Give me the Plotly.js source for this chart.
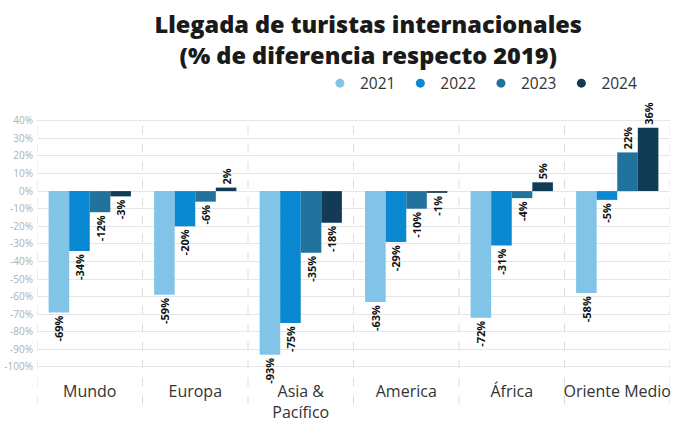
<!DOCTYPE html>
<html>
<head>
<meta charset="utf-8">
<script src="https://cdn.plot.ly/plotly-3.0.1.min.js"></script>
<style>html,body{margin:0;padding:0;background:#fff;}#chart{width:700px;height:440px;}</style>
</head>
<body>
<div id="chart"></div>
<script>
const categories = ["Mundo", "Europa", "Asia &<br>Pacífico", "America", "África", "Oriente Medio"];
const years = ["2021", "2022", "2023", "2024"];
const v2021 = [-69, -59, -93, -63, -72, -58];
const v2022 = [-34, -20, -75, -29, -31, -5];
const v2023 = [-12, -6, -35, -10, -4, 22];
const v2024 = [-3, 2, -18, -1, 5, 36];
const yTickVals = [40, 30, 20, 10, 0, -10, -20, -30, -40, -50, -60, -70, -80, -90, -100];
const colors = ["#82C4E8", "#0B88D2", "#22729E", "#123B56"];
const series = [v2021, v2022, v2023, v2024];

const traces = [];
series.forEach((vals, i) => {
  traces.push({
    type: "bar",
    name: years[i],
    x: categories,
    y: vals,
    marker: {color: colors[i]},
    text: vals.map(v => v + "%"),
    textposition: "outside",
    textangle: -90,
    constraintext: "none",
    textfont: {family: "Open Sans", size: 11, color: "#111", weight: "bold"},
    cliponaxis: false,
    showlegend: false,
    hoverinfo: "skip"
  });
});
// legend entries with circular markers
series.forEach((vals, i) => {
  traces.push({
    type: "scatter",
    mode: "markers",
    name: years[i],
    x: [null],
    y: [null],
    marker: {color: colors[i], size: 9, symbol: "circle"},
    showlegend: true,
    hoverinfo: "skip"
  });
});

const shapes = [];
for (let k = 0; k <= categories.length; k++) {
  shapes.push({
    type: "line", xref: "x", yref: "paper",
    x0: k - 0.5, x1: k - 0.5, y0: -0.12, y1: 0.99,
    line: {color: "#dcdcdc", width: 1, dash: "dash"},
    layer: "below"
  });
}

const layout = {
  width: 700, height: 440,
  margin: {l: 37, r: 30, t: 119, b: 66},
  paper_bgcolor: "#fff", plot_bgcolor: "#fff",
  font: {family: "Open Sans", color: "#333"},
  title: {
    text: "Llegada de turistas internacionales<br>(% de diferencia respecto 2019)",
    font: {family: "Open Sans", size: 23.5, color: "#1a1a1a", weight: 800},
    x: 0.526, xanchor: "center", y: 0.925, yanchor: "middle", xref: "container", yref: "container"
  },
  legend: {
    orientation: "h", xref: "container", yref: "container",
    x: 0.457, xanchor: "left", y: 0.81, yanchor: "middle",
    font: {family: "Open Sans", size: 15.5, color: "#333"},
    traceorder: "normal"
  },
  barmode: "group",
  bargap: 0.22,
  bargroupgap: 0,
  xaxis: {
    type: "category",
    range: [-0.5, 5.5],
    showgrid: false, zeroline: false, showline: false, ticks: "",
    tickfont: {family: "Open Sans", size: 16, color: "#333"},
    ticklabelstandoff: 6,
    fixedrange: true
  },
  yaxis: {
    range: [-104, 41],
    tickvals: yTickVals,
    ticktext: yTickVals.map(v => v + "%"),
    showgrid: true, gridcolor: "#e6e6e6", gridwidth: 1,
    zeroline: true, zerolinecolor: "#e6e6e6", zerolinewidth: 1,
    showline: false, ticks: "",
    tickfont: {family: "Open Sans", size: 10, color: "#b0b0b0"},
    ticklabelstandoff: 3,
    fixedrange: true
  },
  shapes: shapes
};

Plotly.newPlot("chart", traces, layout, {displayModeBar: false, staticPlot: true});
</script>
</body>
</html>
